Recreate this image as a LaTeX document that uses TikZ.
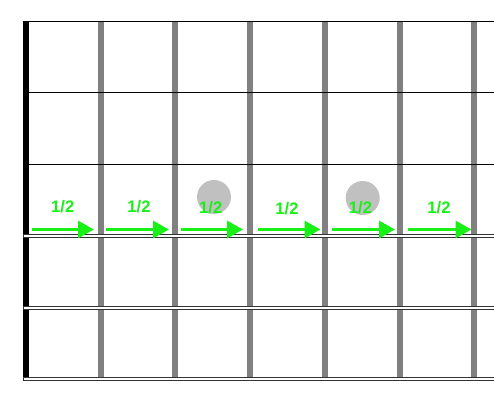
\documentclass[tikz,border=0pt]{standalone}
\usepackage{fontspec}
\newfontfamily\halffont{Liberation Sans}
\usepackage{tikz}
\usetikzlibrary{arrows.meta}
\definecolor{notegreen}{RGB}{24,240,24}
\definecolor{fretgray}{RGB}{128,128,128}
\definecolor{dotgray}{RGB}{192,192,192}
\tikzset{halfstep/.style={notegreen, line width=0.065cm, -{Triangle[length=0.32cm, width=0.34cm]}}}
\tikzset{halflabel/.style={notegreen, font=\halffont\bfseries\fontsize{9.5pt}{10pt}\selectfont, inner sep=0pt}}

\begin{document}
\begin{tikzpicture}[x=0.02cm,y=-0.02cm]
\useasboundingbox (0,0) rectangle (494,405);
% frets and nut
\foreach \x in {101,175,250,325,400,474} {
\draw[fretgray, line width=0.12cm] (\x,21) -- (\x,378);
}
\draw[line width=0.12cm] (26,21) -- (26,378);
% plain strings
\foreach \y in {21,92.7,164.3} {
\draw[line width=0.5pt] (23,\y) -- (494,\y);
}
% wound strings
\foreach \y in {235.8,307.7,379.3} {
\draw[fill=white, draw=black!80, line width=0.5pt] (23,\y-1.6) rectangle (494,\y+1.6);
}
% dots
\fill[dotgray] (214,197) circle[radius=17];
\fill[dotgray] (362.7,198) circle[radius=17];
% half steps
\foreach \i/\a/\b/\l/\h in {1/32/94/62.7/206.7, 2/106/169/139/206.7, 3/181/243/210.7/207.5,
  4/258/320.5/287/209, 5/332/395/360.5/208, 6/408/471.5/439/208} {
\coordinate (s\i) at (\a,229.5);
\coordinate (e\i) at (\b,229.5);
\node[halflabel] (l\i) at (\l,\h) {1/2};
\draw[halfstep] (s\i) -- (e\i);
}
\end{tikzpicture}
\end{document}
